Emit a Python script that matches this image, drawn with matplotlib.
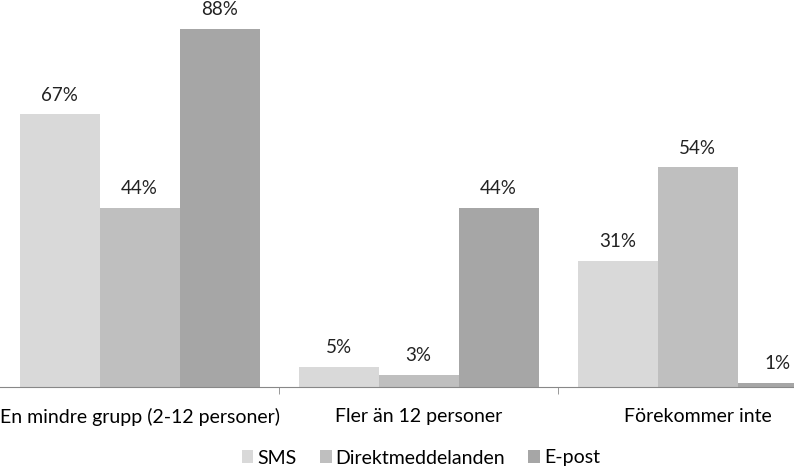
import matplotlib.pyplot as plt
import numpy as np

plt.rcParams['font.family'] = ['Lato', 'DejaVu Sans']

categories = ["En mindre grupp (2-12 personer)", "Fler än 12 personer", "Förekommer inte"]
series = ["SMS", "Direktmeddelanden", "E-post"]
sms = [67, 5, 31]
direkt = [44, 3, 54]
epost = [88, 44, 1]
colors = ["#d9d9d9", "#bfbfbf", "#a6a6a6"]

fig = plt.figure(figsize=(7.94, 4.68), dpi=100)
# axes run a bit past the right edge, like the cropped original
ax = fig.add_axes([0, 81 / 468, 837 / 794, 387 / 468])

x = np.arange(len(categories))
w = 80 / 279
for i, (vals, name) in enumerate(zip([sms, direkt, epost], series)):
    pos = x + (i - 1) * w
    ax.bar(pos, vals, width=w, color=colors[i], label=name)
    for p, v in zip(pos, vals):
        ax.text(p, v + 2.6, f"{v}%", ha='center', va='bottom', fontsize=13.5, color='#222222')

ax.set_xlim(-0.5, 2.5)
ax.set_ylim(0, 95.1)
for s in ['top', 'right', 'left']:
    ax.spines[s].set_visible(False)
ax.spines['bottom'].set_color('#888888')
ax.set_yticks([])
ax.set_xticks(x)
ax.set_xticklabels(categories, fontsize=14)
ax.tick_params(axis='x', which='major', length=0, pad=15)
ax.set_xticks([0.5, 1.5], minor=True)
ax.tick_params(axis='x', which='minor', length=5, color='#888888')

fig.legend(loc='center', bbox_to_anchor=(0.53, 10 / 468), ncol=3, frameon=False,
           fontsize=14, handlelength=0.6, handleheight=0.6, handletextpad=0.2,
           columnspacing=1.2)

fig.savefig("out.png", dpi=100)
